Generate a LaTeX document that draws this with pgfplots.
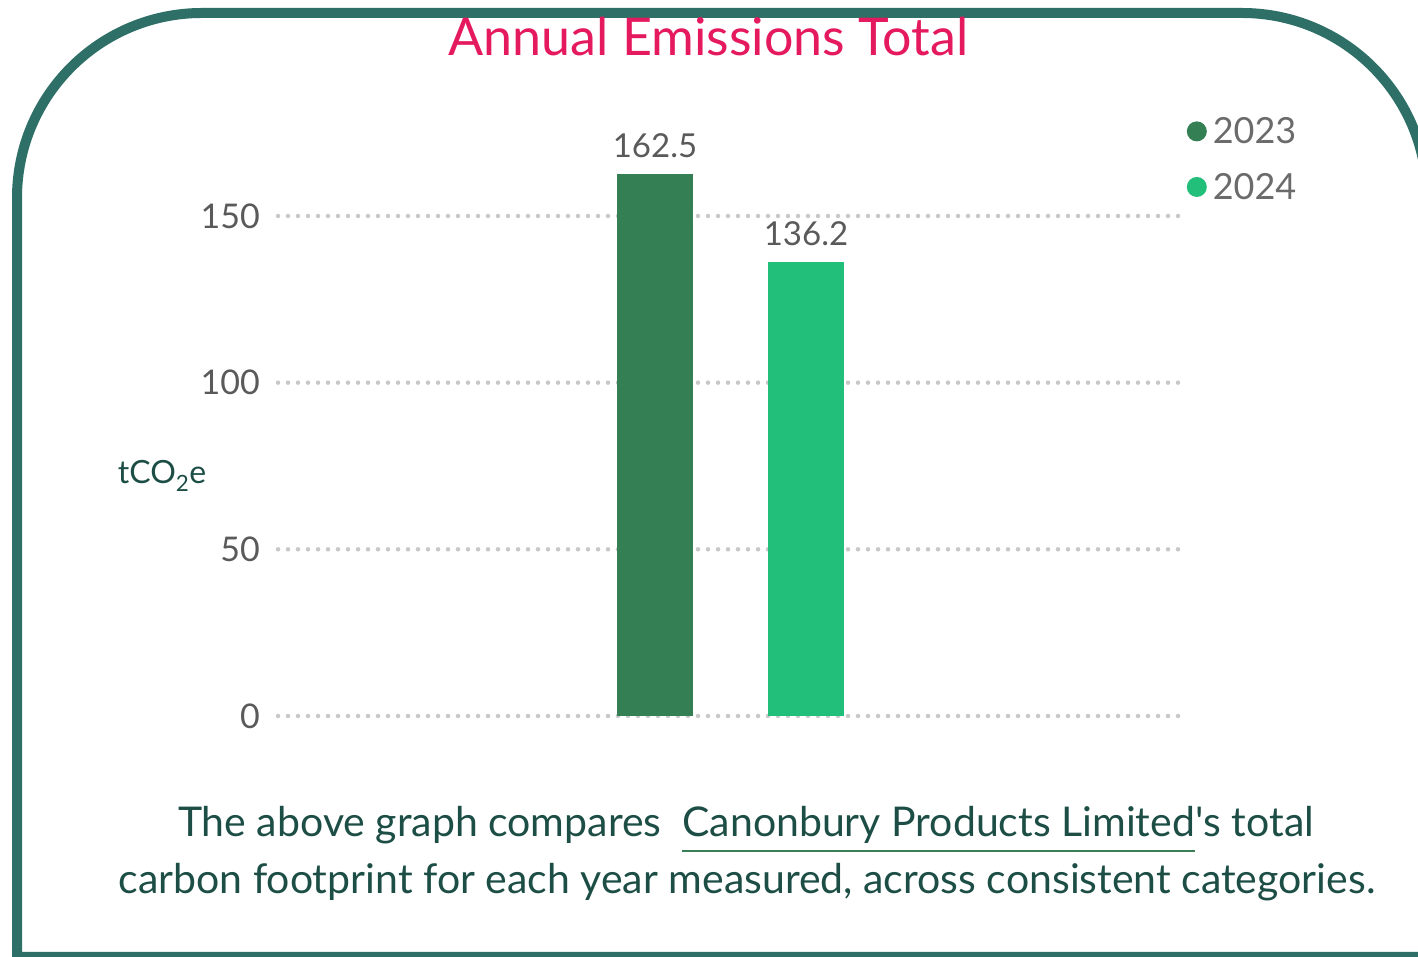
\documentclass[border=0pt]{standalone}
\usepackage{pgfplots}
\pgfplotsset{compat=1.18}
\usepackage{fontspec}
\setmainfont{Lato}
\definecolor{framec}{HTML}{2E6F67}
\definecolor{titlepink}{HTML}{E5195E}
\definecolor{barone}{HTML}{347F53}
\definecolor{bartwo}{HTML}{22BF7B}
\definecolor{tickgray}{HTML}{5A5A5A}
\definecolor{leggray}{HTML}{6B6B6B}
\definecolor{captext}{HTML}{1D4E46}
\definecolor{gridgray}{HTML}{C8C8C8}
\definecolor{ulgreen}{HTML}{3A7F55}
\newcommand\ul[1]{\setbox0\hbox{#1}\rlap{\color{ulgreen}\rule[-15pt]{\wd0}{2pt}}\box0}
\begin{document}
\begin{tikzpicture}
\useasboundingbox (0pt,0pt) rectangle (1418pt,957pt);
\clip (0pt,0pt) rectangle (1418pt,957pt);
\draw[framec, line width=10pt] (1440pt,0pt) -- (17pt,0pt) -- (17pt,759pt) arc[start angle=180,end angle=90,radius=185pt] -- (1242pt,944pt) arc[start angle=90,end angle=0,radius=185pt] -- (1427pt,0pt);
\begin{axis}[
  at={(278pt,241pt)}, anchor=south west,
  scale only axis, width=905pt, height=550pt,
  xmin=-452.5, xmax=452.5, ymin=0, ymax=165,
  axis line style={draw=none},
  tick style={draw=none},
  xtick=\empty,
  ytick={0,50,100,150},
  ymajorgrids,
  major grid style={draw=gridgray, line width=4.5pt, line cap=round, dash pattern=on 0pt off 10pt},
  /pgf/number format/assume math mode=true,
  yticklabel style={font=\fontsize{34}{40}\selectfont, text=tickgray, anchor=east, inner sep=0pt, xshift=-18pt},
  point meta=explicit symbolic,
  nodes near coords,
  nodes near coords style={font=\fontsize{33}{40}\selectfont, text=tickgray, anchor=south, inner sep=0pt, yshift=16pt},
  title={Annual Emissions Total},
  title style={at={(axis description cs:0.4757,1.2236)}, anchor=center, font=\fontsize{52}{60}\selectfont, text=titlepink},
  ylabel={tCO\textsubscript{2}e},
  ylabel style={at={(axis description cs:-0.128,0.436)}, rotate=-90, anchor=center, font=\fontsize{32}{38}\selectfont, text=captext},
  legend style={at={(1.004,1.092)}, anchor=north west, draw=none, fill=none, inner sep=0pt, font=\fontsize{36}{42}\selectfont, text=leggray, row sep=24pt, nodes={inner xsep=6pt}},
  legend cell align=left,
]
\addplot[ybar, bar width=76pt, bar shift=0pt, fill=barone, draw=none,
  legend image code/.code={\fill[barone] (0pt,0pt) circle (10pt);}]
  coordinates {(-75.5,162.5) [162.5]};
\addplot[ybar, bar width=76pt, bar shift=0pt, fill=bartwo, draw=none,
  legend image code/.code={\fill[bartwo] (0pt,0pt) circle (10pt);}]
  coordinates {(75.5,136.2) [136.2]};
\legend{2023,2024}
\end{axis}
\node[anchor=base, text=captext, font=\fontsize{41}{48}\selectfont, inner sep=0pt] at (746pt,120pt) {The above graph compares \ \ul{Canonbury Products Limited}\textquotesingle s total};
\node[anchor=base, text=captext, font=\fontsize{41}{48}\selectfont, inner sep=0pt] at (747pt,63pt) {carbon footprint for each year measured, across consistent categories.};
\end{tikzpicture}
\end{document}
